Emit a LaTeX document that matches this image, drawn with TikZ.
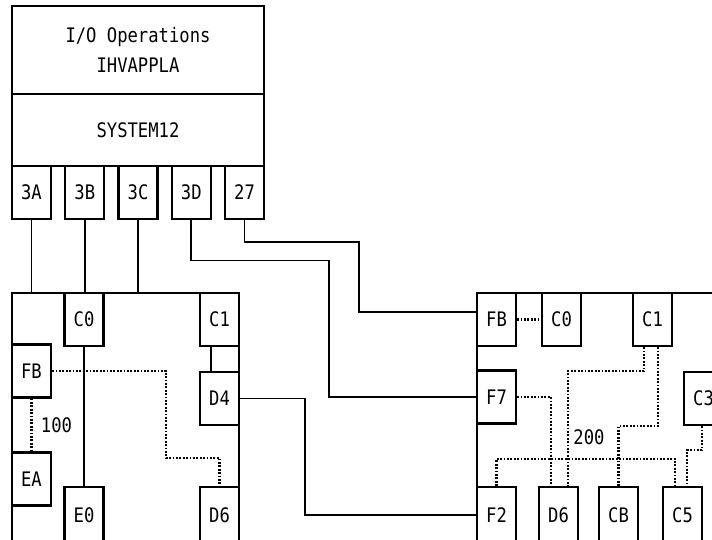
\documentclass[tikz,border=0pt]{standalone}
\usepackage{fontspec}
\newfontfamily\unitfont[FakeStretch=0.86]{DejaVu Sans Mono}
\usepackage{tikz}

\begin{document}
\begin{tikzpicture}[x=1pt, y=-1pt, every node/.style={font=\unitfont\fontsize{20}{30}\selectfont},
	frame/.style={draw, line width=2.2pt, inner sep=0pt},
	unit/.style={draw, line width=2.2pt, minimum width=39pt, minimum height=53pt, inner sep=0pt},
	link/.style={line width=1.8pt},
	dotlink/.style={line width=2.1pt, dash pattern=on 1.8pt off 1.6pt}]
	\clip (0,0) rectangle (712,540);
	\node[frame, minimum width=252pt, minimum height=88pt, align=center] (app) at (138,50) {I/O Operations\\IHVAPPLA};
	\node[frame, minimum width=252pt, minimum height=72pt] (sys) at (138,130) {SYSTEM12};
	\foreach \p [count=\i from 0] in {3A,3B,3C,3D,27} {\node[unit] (p\p) at (31.5+53.25*\i,192.5) {\p};}
	\node[frame, minimum width=227pt, minimum height=256pt] (lcu) at (125.5,421) {};
	\node[frame, minimum width=270pt, minimum height=256pt] (rcu) at (612,421) {};
	\foreach \n/\t/\x/\y in {lC0/C0/84/319.5, lC1/C1/219.5/319.5, lFB/FB/31.5/371, lD4/D4/219.5/398.5, lEA/EA/31.5/479,
		rFB/FB/496.5/319.5, rC0/C0/561.5/319.5, rC1/C1/652.5/319.5, rF7/F7/496.5/397, rC3/C3/703.5/398.5}
		{\node[unit] (\n) at (\x,\y) {\t};}
	\foreach \n/\t/\x in {lE0/E0/84, lD6/D6/219.5, rF2/F2/496.5, rD6/D6/558.5, rCB/CB/618.5, rC5/C5/682.5}
		{\node[unit, minimum height=56pt] (\n) at (\x,515) {\t};}
	\draw[link] (p3A.south) -- (p3A.south |- lcu.north);
	\draw[link] (p3B.south) -- (p3B.south |- lC0.north);
	\draw[link] (p3C.south) -- (p3C.south |- lcu.north);
	\draw[link] (p3D.south) |- (329,260.5) |- (rF7.west);
	\draw[link] (p27.south) |- (359,242) |- ([yshift=7.5pt]rFB.west);
	\draw[link] (lD4.east) -| (305,456) |- (rF2.west);
	\draw[link] (lC0.south) -- (lE0.north);
	\draw[link] ([xshift=-8.5pt]lC1.south) -- ([xshift=-8.5pt]lD4.north);
	\draw[dotlink] (lFB.east) -| (166,458) -| (lD6.north);
	\draw[dotlink] (lFB.south) -- (lEA.north);
	\draw[dotlink] (rFB.east) -- (rC0.west);
	\draw[dotlink] ([xshift=-8.5pt]rC1.south) |- (568,371) -- ([xshift=9.5pt]rD6.north);
	\draw[dotlink] ([xshift=5.5pt]rC1.south) |- (618.5,426) -- (rCB.north);
	\draw[dotlink] (rF7.east) -| ([xshift=-7.5pt]rD6.north);
	\draw[dotlink] (rF2.north) |- (675,459) -- ([xshift=-7.5pt]rC5.north);
	\draw[dotlink] ([xshift=-1.5pt]rC3.south) |- (687,450) -- ([xshift=4.5pt]rC5.north);
	\node (ring1) at (56.5,425) {100};
	\node (ring2) at (589,437) {200};
\end{tikzpicture}
\end{document}
